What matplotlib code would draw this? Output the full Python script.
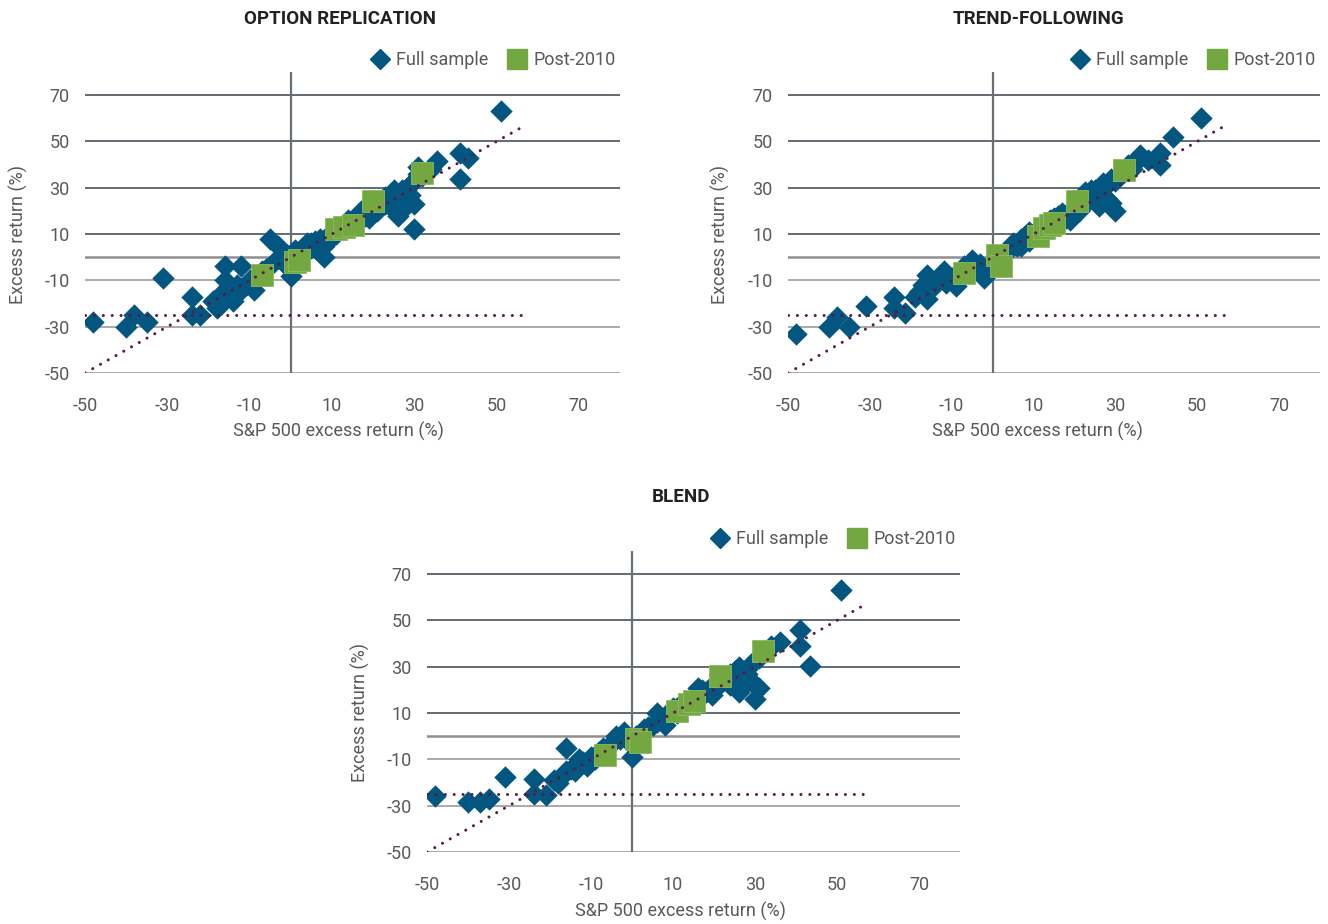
import matplotlib
matplotlib.use("Agg")
import matplotlib.pyplot as plt
from matplotlib.lines import Line2D

plt.rcParams['font.family'] = ['Roboto', 'DejaVu Sans']
plt.rcParams['axes.unicode_minus'] = False

# ---- data ----
x_ticks = [-50, -30, -10, 10, 30, 50, 70]
y_ticks = [-50, -30, -10, 10, 30, 50, 70]
ref_x = [-50, 57]          # 45-degree reference line
floor_y = -25              # horizontal floor line

opt_full_x = [-48, -40, -38, -35, -31, -24, -24, -22, -18, -16, -12, -16, -15, -13, -11, -9, -14, -17,
              -10, -8, -6, -5, -3, -2, -1, 0, 1, 2, 3, 4, 5, 6, 7, 8, 8, 9, 10, 11, 12, 13, 14, 15,
              16, 17, 18, 19, 20, 21, 22, 23, 24, 25, 25, 26, 27, 28, 29, 30, 30, 30, 31, 31, 33,
              35.5, 41, 43, 41, 51,
              -19, -17, -13, -7, -4, -1, 1, 3, 5, 6, 9, 11, 14, 17, 19, 21, 23, 24, 26, 27, 28, 29, 32, 34]
opt_full_y = [-28, -30, -25, -28, -9, -17, -25, -25, -22, -4, -4, -10, -14, -16, -12, -14, -19, -20,
              -10, -8, -5, 8, 5, -2, -4, -8, 0, 2, 3, 6, 4, 7, 8, 0, 5, 9, 11, 10, 13, 12, 16, 15,
              18, 20, 18, 17, 22, 20, 24, 23, 26, 29, 24, 18, 27, 25, 31, 23, 12, 33, 36, 39, 37,
              41.5, 45, 43, 34, 63,
              -19, -16, -12, -6, -2, 1, 3, 1, 6, 4, 7, 13, 13, 17, 21, 22, 26, 22, 25, 29, 22, 27, 35, 38]
opt_post_x = [-7, 1, 2, 11, 13, 15, 20, 32]
opt_post_y = [-7.5, -2, -1, 12, 13, 14, 24.5, 36.5]

trend_full_x = [-48, -40, -38, -35, -31, -24, -24, -21.5, -18, -17, -16, -16, -14, -12, -11.5, -9,
                -8, -6, -5, -3, -2, -1, 0, 2, 3, 4, 6, 7, 8, 9, 10, 12, 13, 14, 15, 16, 17, 18, 19,
                20, 21, 22, 22.5, 24, 25, 26, 27, 28, 29, 30, 29, 31, 33, 36, 38, 41, 41, 44, 51,
                -19, -15, -13, -10, -7, -4, 1, 5, 7, 9, 11, 13, 15, 17, 19, 21, 23, 24, 26, 27, 28,
                30, 32, 34, 35]
trend_full_y = [-33, -30, -26, -30, -21, -17, -22, -24, -15, -12, -7.5, -18, -12, -6, -11, -12.5,
                -9, -7, -1, -3, -9, -5, -2, 0, 2, 3, 5, 8, 9, 7, 10, 13, 11, 16, 14, 18, 16, 17, 16,
                21, 23, 25, 28, 26, 29, 22, 32, 25, 23.5, 20, 34, 36, 40, 44, 42, 45, 40, 52, 60,
                -17, -10, -9, -9, -4, -4, -1, 6, 5, 11, 12, 15, 17, 19, 20, 20, 24, 29, 28, 26, 31,
                33, 37, 38, 41]
trend_post_x = [-7, 1, 2, 11, 12.5, 14, 15, 20.5, 32]
trend_post_y = [-7, 1, -4, 9, 12.5, 14, 15, 24.5, 37.5]

blend_full_x = [-48, -40, -37, -35, -31, -24, -24, -21, -18, -17, -16, -15, -14, -13, -12, -11, -10,
                -8, -6, -5, -4, -2, -1, 0, 1, 3, 5, 6, 7, 8, 9, 10, 12, 13, 14, 16, 17, 18, 19.5, 21,
                22, 24, 25, 26, 27, 28, 29, 30, 31, 31, 33, 36, 41, 41, 43.5, 51,
                -19, -16, -9, -7, -3, 2, 4, 6, 8, 11, 12, 15, 17, 19, 20, 23, 24, 25, 26, 27, 28,
                29, 30, 32, 34]
blend_full_y = [-26, -28.5, -28.5, -27, -17.5, -18.5, -25, -25.5, -20, -17, -5, -14, -15, -10, -11,
                -13, -9, -7, -5, -3, 0, 2, -2, -9, 0, 3, 5, 10, 7, 5, 9, 12, 13, 14, 15, 21, 18, 19,
                18, 22, 24, 27, 28, 19, 25, 27, 24, 16, 21, 34, 37, 40.5, 46, 39, 30.5, 63,
                -19, -15, -10, -5, -1, 1, 4, 6, 8, 10, 14, 17, 20, 21, 20, 25, 22, 26, 30, 22, 29,
                31, 22, 36, 39]
blend_post_x = [-6.5, 1, 2, 11, 14, 15, 21.5, 32]
blend_post_y = [-8, -1, -2.5, 11, 14, 15, 26, 37]

panels = [
    ("OPTION REPLICATION", opt_full_x, opt_full_y, opt_post_x, opt_post_y),
    ("TREND-FOLLOWING", trend_full_x, trend_full_y, trend_post_x, trend_post_y),
    ("BLEND", blend_full_x, blend_full_y, blend_post_x, blend_post_y),
]

BLUE = '#03567f'
GREEN = '#72a83f'
MAROON = '#5e1846'
TXT = '#595959'

W, H = 1328, 924
fig = plt.figure(figsize=(W / 100, H / 100), dpi=100)


def px(x, y):
    return x / W, 1 - y / H


# axes boxes in pixels: left, top, right, bottom
boxes = [(85, 72, 620, 373), (788, 72, 1320, 373), (427, 551, 960, 852)]
title_pos = [(340, 19), (1038, 19), (681, 497)]
ylab_pos = [(18, 234), (720, 234), (360, 712)]
xlab_pos = [(338, 431), (1037, 431), (680, 911)]

for i, (title, fx, fy, sx, sy) in enumerate(panels):
    l, t, r, b = boxes[i]
    ax = fig.add_axes([l / W, 1 - b / H, (r - l) / W, (b - t) / H])
    ax.set_xlim(-50, 80)
    ax.set_ylim(-50, 80)
    for s in ax.spines.values():
        s.set_visible(False)

    # gridlines: upper ones darker, lower ones lighter
    for yv in y_ticks:
        c = '#56606a' if yv > 0 else '#a3a3a3'
        ax.axhline(yv, color=c, lw=1.3, zorder=0.5)
    ax.axhline(0, color='#8f8f8f', lw=1.8, zorder=0.6)
    ax.axvline(0, color='#6b6f73', lw=1.6, zorder=0.6)

    ax.scatter(fx, fy, marker='D', s=130, color=BLUE, linewidths=0, zorder=2)
    ax.scatter(sx, sy, marker='s', s=240, color=GREEN, edgecolors='#8dbb62', linewidths=0.6, zorder=3)

    ax.plot(ref_x, ref_x, color=MAROON, lw=2.2, linestyle=(0, (0.01, 2.9)),
            dash_capstyle='round', zorder=4)
    ax.plot(ref_x, [floor_y, floor_y], color=MAROON, lw=2.2, linestyle=(0, (0.01, 2.9)),
            dash_capstyle='round', zorder=4)

    ax.set_xticks(x_ticks)
    ax.set_yticks(y_ticks)
    ax.tick_params(length=0, labelsize=13, colors=TXT)
    ax.tick_params(axis='x', pad=17)
    ax.tick_params(axis='y', pad=11)

    handles = [Line2D([], [], marker='D', color=BLUE, ls='none', markersize=10.5),
               Line2D([], [], marker='s', color=GREEN, ls='none', markersize=15)]
    leg = ax.legend(handles, ['Full sample', 'Post-2010'], loc='center right',
                    bbox_to_anchor=(1.005, 1.0 + 12 / (b - t)), ncol=2, frameon=False,
                    fontsize=13, handletextpad=0.3, columnspacing=1.0, borderaxespad=0,
                    handlelength=1.2)
    for txt in leg.get_texts():
        txt.set_color(TXT)

    tx, ty = px(*title_pos[i])
    fig.text(tx, ty, title, ha='center', va='center', fontsize=13.5, fontweight='bold', color='#222222')
    lx, ly = px(*ylab_pos[i])
    fig.text(lx, ly, 'Excess return (%)', ha='center', va='center', rotation=90, fontsize=13, color=TXT)
    xx, xy = px(*xlab_pos[i])
    fig.text(xx, xy, 'S&P 500 excess return (%)', ha='center', va='center', fontsize=13, color=TXT)

fig.savefig('out.png', dpi=100)
